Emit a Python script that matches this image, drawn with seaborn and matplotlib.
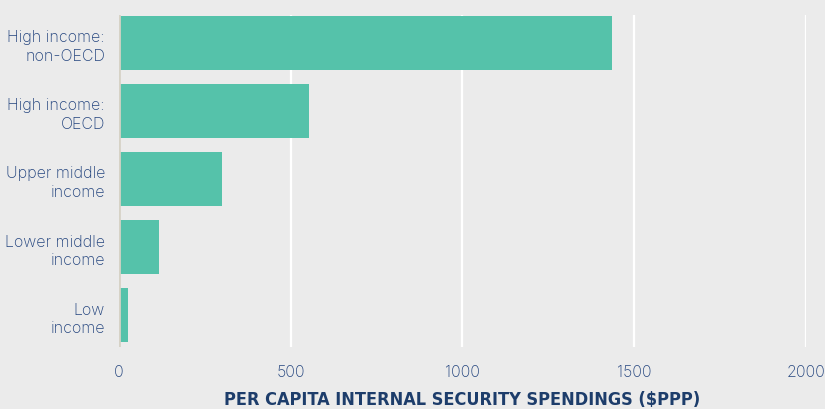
import pandas as pd
import matplotlib
matplotlib.use("Agg")
import matplotlib.pyplot as plt
import seaborn as sns

# -----------------------------
# DATA
# -----------------------------

CATEGORIES = [
    "High income:\nnon-OECD",
    "High income:\nOECD",
    "Upper middle\nincome",
    "Lower middle\nincome",
    "Low\nincome",
]

SPENDING = [1435, 553, 300, 116, 26]

X_TICKS = [0, 500, 1000, 1500, 2000]

BG = "#ebebeb"
BAR = "#55c2aa"
LABEL = "#23447e"
TITLE = "#1d3d6b"

df = pd.DataFrame({"group": CATEGORIES, "spend": SPENDING})

sns.set_theme(style="white")
plt.rcParams["font.family"] = ["Inter", "DejaVu Sans"]

fig = plt.figure(figsize=(8.25, 4.10), dpi=100, facecolor=BG)
ax = fig.add_axes([0.144, 0.151, 0.833, 0.810])
ax.set_facecolor(BG)

ax.set_xlim(0, 2000)
ax.set_xticks(X_TICKS)
for x in X_TICKS[1:]:
    ax.axvline(x, color="white", lw=1.6, zorder=0)

sns.barplot(data=df, x="spend", y="group", color=BAR, saturation=1,
            width=0.79, linewidth=0, ax=ax, zorder=2)
ax.axvline(0, color="#d6d2c6", lw=2, zorder=3)

ax.set_ylim(4.47, -0.41)
for s in ax.spines.values():
    s.set_visible(False)
ax.tick_params(axis="both", length=0, labelcolor=LABEL, labelsize=11.5)
ax.tick_params(axis="x", pad=12)
ax.tick_params(axis="y", pad=10)
for t in ax.get_xticklabels() + ax.get_yticklabels():
    t.set_fontweight("light")
for t in ax.get_yticklabels():
    t.set_horizontalalignment("right")
    t.set_multialignment("right")
    t.set_linespacing(1.32)

ax.set_ylabel("")
ax.set_xlabel("PER CAPITA INTERNAL SECURITY SPENDINGS ($PPP)",
              color=TITLE, fontsize=13, fontweight="bold",
              family=["DejaVu Sans"], fontstretch="condensed", labelpad=8)

fig.savefig("out.png", dpi=100, facecolor=BG)
